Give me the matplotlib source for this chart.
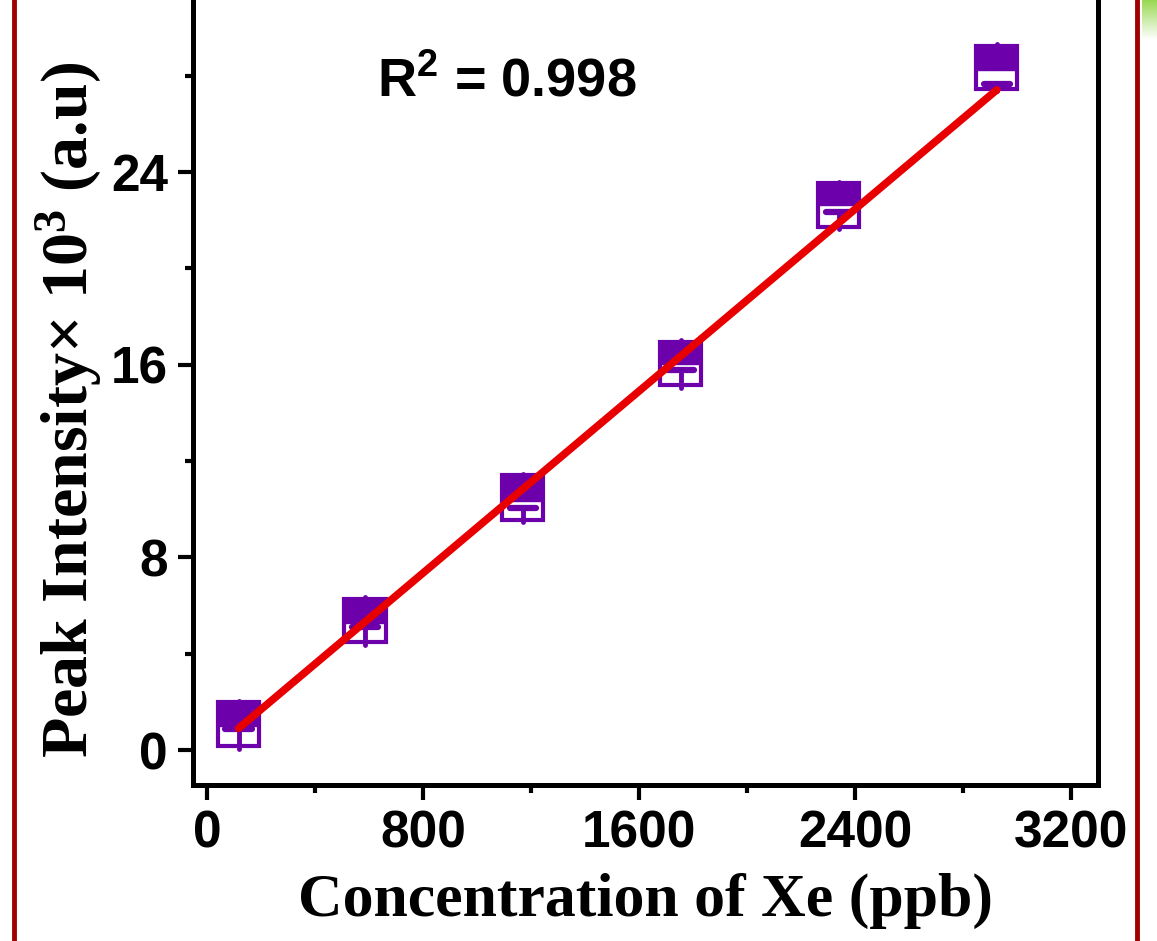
import numpy as np
import matplotlib
matplotlib.use("Agg")
import matplotlib.pyplot as plt
from matplotlib.patches import Rectangle
from matplotlib.lines import Line2D
from matplotlib.ticker import MultipleLocator

# concentration of Xe (ppb) and box statistics of peak intensity (x10^3 a.u.)
conc = [117, 585, 1170, 1755, 2340, 2925]
q1 = [0.18, 4.47, 9.55, 15.16, 21.73, 27.43]
median = [1.00, 5.29, 10.34, 16.02, 22.63, 28.24]
q3 = [2.00, 6.27, 11.42, 16.96, 23.53, 29.25]
mean = [0.87, 5.12, 10.05, 15.78, 22.35, 27.65]
whisk_lo = [0.04, 4.36, 9.47, 15.03, 21.64, 27.35]
whisk_hi = [2.05, 6.35, 11.46, 17.03, 23.60, 29.32]

# linear fit
slope = 0.00944
intercept = -0.20
r2_text = r"$\mathdefault{R^{2}}$ = 0.998"

purple = "#6c00aa"
red = "#e80000"
W, H = 1157, 941

fig = plt.figure(figsize=(W / 100, H / 100), dpi=100)
ax = fig.add_axes([193 / W, 1 - 785 / H, (1098 - 193) / W, (785 + 18.2) / H])

box_w = 152
for x, lo, md, hi, mn, wl, wh in zip(conc, q1, median, q3, mean, whisk_lo, whisk_hi):
    # whiskers (lower one runs up into the box to the mean line)
    ax.plot([x, x], [wl, mn], color=purple, lw=3.5, solid_capstyle="round", zorder=2)
    ax.plot([x, x], [hi, wh], color=purple, lw=3.5, solid_capstyle="round", zorder=2)
    # box outline
    ax.add_patch(Rectangle((x - box_w / 2, lo), box_w, hi - lo, facecolor="none",
                           edgecolor=purple, lw=3, zorder=3))
    # upper half filled
    ax.add_patch(Rectangle((x - box_w / 2, md), box_w, hi - md, facecolor=purple,
                           edgecolor=purple, lw=1, zorder=3))
    # mean line
    ax.plot([x - box_w * 0.32, x + box_w * 0.32], [mn, mn], color=purple, lw=4.5,
            solid_capstyle="round", zorder=3)

xfit = np.array([conc[0], conc[-1]])
ax.plot(xfit, slope * xfit + intercept, color=red, lw=5.5, solid_capstyle="round", zorder=4)

ax.set_xlim(-52, 3300)
ax.set_ylim(-1.45, 31.9)
ax.xaxis.set_major_locator(MultipleLocator(800))
ax.xaxis.set_minor_locator(MultipleLocator(400))
ax.yaxis.set_major_locator(MultipleLocator(8))
ax.yaxis.set_minor_locator(MultipleLocator(4))

for s in ax.spines.values():
    s.set_linewidth(3.6)
ax.tick_params(which="major", direction="out", length=11, width=3, pad=7)
ax.tick_params(which="minor", direction="out", length=6, width=3)
ax.tick_params(top=False, right=False)
for lab in ax.get_xticklabels() + ax.get_yticklabels():
    lab.set_fontfamily("Liberation Sans")
    lab.set_fontweight("bold")
    lab.set_fontsize(37)

ax.set_xlabel("Concentration of Xe (ppb)", family="Liberation Serif", weight="bold",
              fontsize=44.5, labelpad=10)
fig.text(0.059, 1 - 758 / H, r"Peak Intensity× $\mathdefault{10^{3}}$ (a.u)", rotation=90,
         ha="center", va="bottom", family="Liberation Serif", weight="bold", fontsize=47.5)

ax.text(628, 27.15, r2_text, transform=ax.transData, ha="left", va="baseline",
        family="Liberation Sans", weight="bold", fontsize=39)

# page border decorations
fig.add_artist(Line2D([14 / W, 14 / W], [0, 1], color="#a00000", lw=3.5))
fig.add_artist(Line2D([1137 / W, 1137 / W], [0, 1], color="#a00000", lw=3.5))
gax = fig.add_axes([1142 / W, 1 - 40 / H, 15 / W, 40 / H])
grad = np.linspace(1, 0, 40)[:, None, None]
green = np.array([0.6, 0.85, 0.33])
img = green * grad + (1 - grad) * np.ones(3)
gax.imshow(np.repeat(img, 15, axis=1), aspect="auto")
gax.axis("off")

fig.savefig("out.png", dpi=100)
